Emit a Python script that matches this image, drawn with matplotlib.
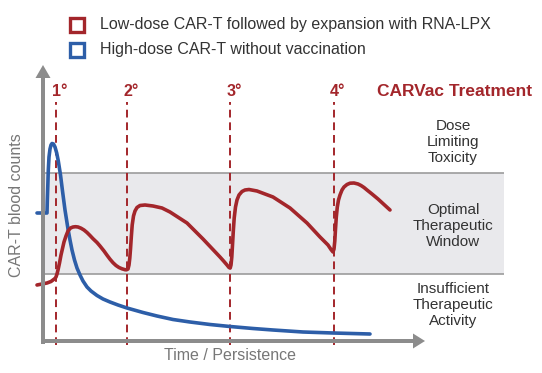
import matplotlib
matplotlib.use('Agg')
import matplotlib.pyplot as plt

plt.rcParams['font.family'] = ['Liberation Sans', 'DejaVu Sans']

RED = '#a3262b'
BLUE = '#2d5ea8'
AXIS = '#8c8c8c'

# schematic curves (time, CAR-T count), arbitrary units
blue_t = [-6, 4, 4.3, 4.8, 5.3, 6.0, 7.0, 8.0, 9.0, 10.5, 12.0, 13.7, 15.3, 17.5, 19.5,
          22, 25, 27, 29, 31.5, 34, 37, 40, 44, 48, 54, 60, 67, 75, 84, 100, 114,
          130, 147, 167, 187, 210, 230, 260, 290, 327]
blue_c = [128, 128, 140, 155, 171, 184, 192, 196, 197.5, 197, 194, 188, 180, 166, 150,
          131, 112, 101, 91, 81, 73, 66, 60, 54, 50, 45.5, 42, 39, 36, 33, 28.5, 25,
          21.5, 19, 16.5, 14.5, 12.5, 11, 9, 8, 7]

red_t = [-6, 4, 8, 10, 12, 13, 14, 15, 16.5, 18, 21, 23, 25, 27.5, 30, 32.5, 35, 38,
         41, 44, 47, 50, 54, 57, 61, 64, 67, 70, 73, 76, 79, 82, 83.5, 85,
         86, 86.8, 87.5, 88.3, 89.2, 90.5, 92, 94, 97, 102, 110, 119, 127, 144, 160,
         177, 181, 184, 186, 187.2,
         188, 188.8, 189.5, 190.3, 191.2, 192.5, 194, 196, 199, 202, 206, 214, 230,
         247, 264, 277, 285, 288, 290,
         291, 291.8, 292.5, 293.3, 294.3, 295.5, 297, 299, 301, 304, 307, 311, 315,
         318, 321, 324, 329, 335, 341, 347]
red_c = [56, 58, 59.5, 61, 62.5, 64, 67, 71, 78, 86, 99, 105, 110, 113, 114, 114.3,
         114, 112.8, 111, 108.5, 105.5, 102.3, 98.5, 95, 90, 85.8, 81.8, 78.3, 75.5,
         73.5, 72.2, 71.3, 71.2, 72,
         76, 83, 92, 104, 116, 125, 130, 133.5, 135.5, 136, 135, 133, 129, 118, 102,
         84, 79.5, 76, 73.5, 73,
         76, 84, 96, 110, 123, 134, 141, 146, 149.5, 151, 151.5, 150, 144, 133, 118,
         104, 96, 91.5, 89,
         92, 100, 112, 124, 134, 141, 146, 151, 154, 156.5, 157.8, 158, 157,
         155.5, 153.5, 151, 147, 142, 136.5, 131]

dose_t = [13, 84, 187, 291]
dose_labels = ['1°', '2°', '3°', '4°']

band_low, band_high = 67, 168
zone_labels = ['Dose\nLimiting\nToxicity', 'Optimal\nTherapeutic\nWindow',
               'Insufficient\nTherapeutic\nActivity']
zone_c = [199, 115, 36]

legend_labels = ['Low-dose CAR-T followed by expansion with RNA-LPX',
                 'High-dose CAR-T without vaccination']

fig = plt.figure(figsize=(5.42, 3.73), dpi=100)
ax = fig.add_axes([0, 0, 1, 1])
ax.set_xlim(-43, 499)
ax.set_ylim(-32, 341)
ax.axis('off')

# therapeutic window band
ax.fill_between([0, 461], band_low, band_high, color='#e9e9ec', lw=0, zorder=0)
ax.hlines([band_low, band_high], 0, 461, color='#9c9c9c', lw=1.2, zorder=1)

# dose markers
ax.vlines(dose_t, -4, 239, colors=RED, linestyles=(0, (4, 2.5)), lw=1.4, zorder=2)
for t, lab in zip(dose_t, dose_labels):
    ax.text(t + 4, 249, lab, color=RED, fontsize=11.5, fontweight='bold',
            ha='center', va='center')
ax.text(334, 249, 'CARVac Treatment', color=RED, fontsize=12.5,
        fontweight='bold', ha='left', va='center')

# curves
ax.plot(blue_t, blue_c, color=BLUE, lw=2.6, solid_joinstyle='round',
        solid_capstyle='round', zorder=3)
ax.plot(red_t, red_c, color=RED, lw=2.6, solid_joinstyle='round',
        solid_capstyle='round', zorder=4)

# axes arrows
ax.arrow(0, -3, 0, 279, width=4, head_width=15, head_length=13,
         length_includes_head=True, color=AXIS, lw=0, zorder=5)
ax.arrow(-2, 0, 384, 0, width=4, head_width=15, head_length=12,
         length_includes_head=True, color=AXIS, lw=0, zorder=5)

ax.text(-26, 136, 'CAR-T blood counts', rotation=90, color='#777777',
        fontsize=11.5, ha='center', va='center')
ax.text(187, -15, 'Time / Persistence', color='#777777', fontsize=11.5,
        ha='center', va='center')

for lab, c in zip(zone_labels, zone_c):
    ax.text(410, c, lab, color='#333333', fontsize=11, ha='center',
            va='center', linespacing=1.2)

# legend
for i, (lab, col) in enumerate(zip(legend_labels, [RED, BLUE])):
    y = 316 - 24.5 * i
    ax.plot([33.5], [y], marker='s', ms=10.5, mfc='white', mec=col, mew=2.4)
    ax.text(57, y, lab, color='#333333', fontsize=11.5, ha='left', va='center')

fig.savefig('out.png', dpi=100)
